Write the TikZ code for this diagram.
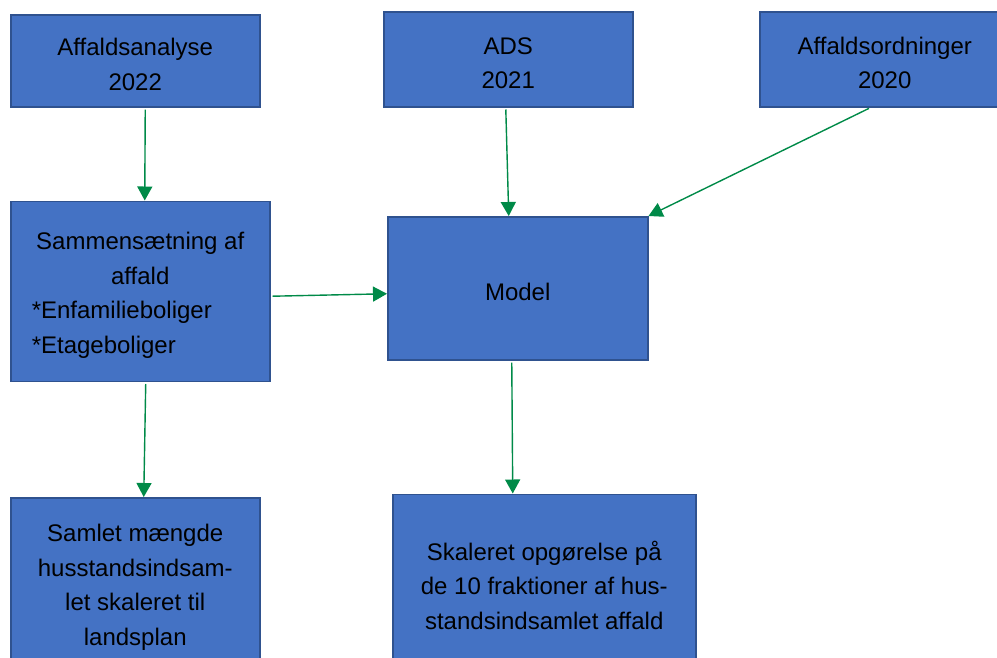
\documentclass[tikz,border=0pt]{standalone}
\usepackage{fontspec}
\setmainfont{Liberation Sans}
\usetikzlibrary{arrows.meta, positioning}
\definecolor{boxfill}{HTML}{4472C4}
\definecolor{boxline}{HTML}{2F528F}
\definecolor{flowgreen}{RGB}{0,138,72}
\newcommand{\boxstrut}{\rule{0pt}{25pt}}
\tikzset{
  box/.style={rectangle,draw=boxline,fill=boxfill,line width=1.5pt,inner sep=0pt,align=center,anchor=north west,font=\fontsize{24}{34.5}\selectfont},
  flow/.style={-{Triangle[width=15pt,length=14pt]}, line width=1.4pt, draw=flowgreen, shorten <=2pt}
}

\begin{document}
\begin{tikzpicture}
  \useasboundingbox (0,0) rectangle (997pt,-657pt);
  \clip (0,0) rectangle (997pt,-657pt);
  % top row: data sources
  \node[box, minimum width=249pt, minimum height=92pt] (ana) at (10pt,-14pt) {\boxstrut Affaldsanalyse\\2022};
  \node[box, minimum width=249pt, minimum height=95pt] (ads) at (383pt,-11pt) {\boxstrut ADS\\2021};
  \node[box, minimum width=250pt, minimum height=95pt] (ord) at (759pt,-11pt) {\boxstrut Affaldsordninger\\2020};
  % left column
  \node[box, minimum width=259pt, minimum height=180pt, below=93pt of ana.south west, anchor=north west] (sam)
    {\boxstrut Sammensætning af\\affald\\\makebox[217pt][l]{*Enfamilieboliger}\\\makebox[217pt][l]{*Etageboliger}};
  \node[box, minimum width=249pt, minimum height=179pt, below=115pt of sam.south west, anchor=north west] (sml)
    {Samlet mængde\\husstandsindsam-\\let skaleret til\\landsplan};
  % model and result
  \node[box, minimum width=260pt, minimum height=143pt] (mod) at (387pt,-216pt) {\boxstrut Model};
  \node[box, minimum width=303pt, minimum height=182pt, below=133pt of mod.south west, anchor=north west, xshift=5pt] (ska)
    {Skaleret opgørelse på\\de 10 fraktioner af hus-\\standsindsamlet affald};
  % connectors
  \draw[flow] ([xshift=10pt]ana.south) -- ([xshift=4.5pt]sam.north);
  \draw[flow] ([xshift=-2.5pt]ads.south) -- ([xshift=-9pt]mod.north);
  \draw[flow] ([xshift=-14pt]ord.south) -- (mod.north east);
  \draw[flow] ([yshift=-5pt]sam.east) -- ([yshift=-5.5pt]mod.west);
  \draw[flow] ([xshift=5.5pt]sam.south) -- ([xshift=8.5pt]sml.north);
  \draw[flow] ([xshift=-6pt]mod.south) -- ([xshift=-31.5pt]ska.north);
\end{tikzpicture}
\end{document}
